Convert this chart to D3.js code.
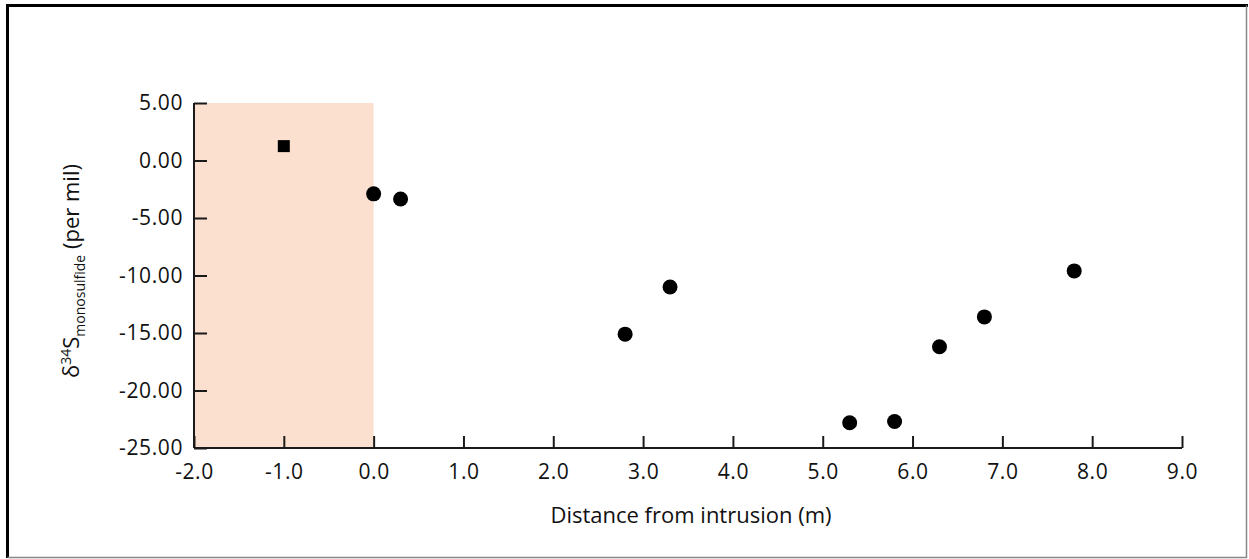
<!DOCTYPE html>
<html>
<head>
<meta charset="utf-8">
<script src="https://cdn.jsdelivr.net/npm/d3@7"></script>
<style>
  body { margin: 0; background: #fff; }
  text { font-family: "Open Sans", sans-serif; fill: #111; }
</style>
</head>
<body>
<svg id="chart" width="1249" height="559"></svg>
<script>
const MARGINTOP    = 103;
const MARGINLEFT   = 194;
const MARGINRIGHT  = 1182;
const MARGINBOTTOM = 448;

// intrusion sample (square) and host-rock samples (circles)
var intrusionX = [-1.0];
var intrusionY = [1.25];
var distance = [0.0, 0.3, 2.8, 3.3, 5.3, 5.8, 6.3, 6.8, 7.8];
var delta34S = [-2.9, -3.35, -15.1, -11.0, -22.8, -22.7, -16.2, -13.6, -9.6];

var xTicks = [-2, -1, 0, 1, 2, 3, 4, 5, 6, 7, 8, 9];
var yTicks = [5, 0, -5, -10, -15, -20, -25];
var shadedRange = [-2, 0];

var svg = d3.select("#chart");

var xRange = d3.scaleLinear().domain([-2, 9]).range([MARGINLEFT, MARGINRIGHT]);
var yRange = d3.scaleLinear().domain([-25, 5]).range([MARGINBOTTOM, MARGINTOP]);

function hyphen(f){
    return function(d){ return f(d).replace("\u2212", "-"); };
}

// outer frame: heavy top/left, light bottom/right
svg.append("path")
    .attr("d", "M7.5,558V5.5H1248")
    .attr("fill", "none").attr("stroke", "#000").attr("stroke-width", 3);
svg.append("path")
    .attr("d", "M1246.5,5.5V557.5H7.5")
    .attr("fill", "none").attr("stroke", "#888").attr("stroke-width", 1.5);

// intrusion zone
svg.append("rect")
    .attr("x", xRange(shadedRange[0]))
    .attr("y", yRange(5))
    .attr("width", xRange(shadedRange[1]) - xRange(shadedRange[0]))
    .attr("height", yRange(-25) - yRange(5))
    .attr("fill", "#fbe0d0");

var xAxis = d3.axisTop(xRange)
    .tickValues(xTicks)
    .tickSize(12)
    .tickFormat(hyphen(d3.format(".1f")));

var yAxis = d3.axisRight(yRange)
    .tickValues(yTicks)
    .tickSize(13)
    .tickFormat(hyphen(d3.format(".2f")));

var gx = svg.append("g")
    .attr("transform", "translate(0," + MARGINBOTTOM + ")")
    .call(xAxis);

var gy = svg.append("g")
    .attr("transform", "translate(" + MARGINLEFT + ",0)")
    .call(yAxis);

[gx, gy].forEach(function(g){
    g.select(".domain").attr("stroke", "#1a1a1a").attr("stroke-width", 2);
    g.selectAll(".tick line").attr("stroke", "#1a1a1a").attr("stroke-width", 2);
    g.selectAll(".tick text").attr("font-size", 21).attr("fill", "#111")
        .attr("letter-spacing", 0.6)
        .style("font-family", "'Open Sans', sans-serif");
});
gx.select(".domain").attr("d", "M" + MARGINLEFT + ",0H" + MARGINRIGHT);
gy.select(".domain").attr("d", "M0," + MARGINTOP + "V" + MARGINBOTTOM);

gx.selectAll(".tick text")
    .attr("y", 31)
    .attr("dy", 0);

gy.selectAll(".tick text")
    .attr("x", -11)
    .attr("text-anchor", "end");

// axis titles
svg.append("text")
    .attr("x", 691)
    .attr("y", 523)
    .attr("text-anchor", "middle")
    .attr("font-size", 22)
    .text("Distance from intrusion (m)");

var ylab = svg.append("text")
    .attr("transform", "translate(79,271) rotate(-90)")
    .attr("text-anchor", "middle")
    .attr("font-size", 22);
ylab.append("tspan").text("δ");
ylab.append("tspan").attr("font-size", 14).attr("dy", -8).text("34");
ylab.append("tspan").attr("dy", 8).text("S");
ylab.append("tspan").attr("font-size", 14).attr("dy", 6).text("monosulfide");
ylab.append("tspan").attr("dy", -6).text(" (per mil)");

// points
svg.selectAll(".sq")
    .data(intrusionX)
    .enter().append("rect")
    .attr("class", "sq")
    .attr("x", function(d){ return xRange(d) - 6; })
    .attr("y", function(d, i){ return yRange(intrusionY[i]) - 6; })
    .attr("width", 12).attr("height", 12)
    .attr("fill", "#000");

svg.selectAll(".pt")
    .data(distance)
    .enter().append("circle")
    .attr("class", "pt")
    .attr("cx", function(d){ return xRange(d); })
    .attr("cy", function(d, i){ return yRange(delta34S[i]); })
    .attr("r", 7.5)
    .attr("fill", "#000");
</script>
</body>
</html>
